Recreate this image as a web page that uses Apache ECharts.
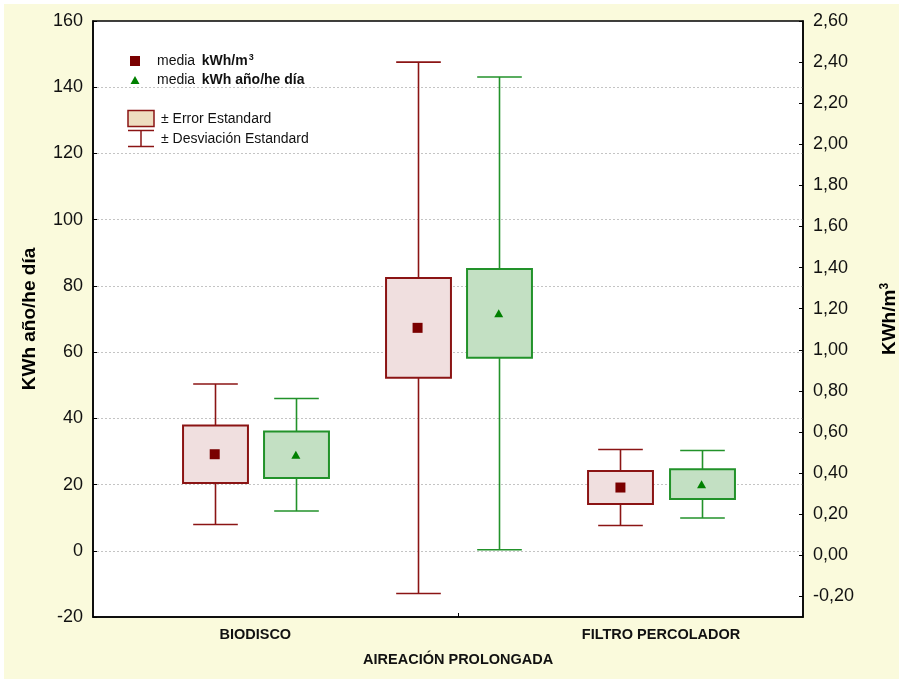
<!DOCTYPE html>
<html>
<head>
<meta charset="utf-8">
<script src="https://cdn.jsdelivr.net/npm/echarts@6/dist/echarts.min.js"></script>
<style>
  html, body { margin: 0; padding: 0; background: #ffffff; }
  #chart { width: 899px; height: 681px; }
</style>
</head>
<body>
<div id="chart"></div>
<script>
// Categories on the horizontal axis
const categories = ['BIODISCO', 'AIREACIÓN PROLONGADA', 'FILTRO PERCOLADOR'];

// kWh/m3 (right axis): mean, standard error, standard deviation
const m3Mean = [0.492, 1.107, 0.330];
const m3SE = [0.140, 0.243, 0.080];
const m3SD = [0.342, 1.293, 0.185];

// kWh año/he día (left axis): mean, standard error, standard deviation
const dayMean = [29.0, 71.7, 20.1];
const daySE = [7.0, 13.4, 4.5];
const daySD = [17.0, 71.4, 10.2];

// Tick labels
const leftTicks = [-20, 0, 20, 40, 60, 80, 100, 120, 140, 160];
const rightTicks = [-0.2, 0, 0.2, 0.4, 0.6, 0.8, 1.0, 1.2, 1.4, 1.6, 1.8, 2.0, 2.2, 2.4, 2.6];

const FONT = "'Liberation Sans', Arial, sans-serif";
const RED = '#8B1414';
const RED_FILL = '#F0DFDF';
const RED_MARK = '#7A0000';
const GREEN = '#22922A';
const GREEN_FILL = '#C3E0C3';
const GREEN_MARK = '#008000';

const BOX_W = 0.32;   // box width in category units
const CAP_W = 0.22;   // whisker cap width in category units
const OFFSET = 0.2;   // shift of each group member from the category centre

function rows(mean, se, sd) {
  return categories.map((c, i) => [i + 1, mean[i], se[i], sd[i]]);
}

function boxRenderer(stroke, fill, offset) {
  return function (params, api) {
    const x = api.value(0) + offset;
    const mean = api.value(1), se = api.value(2), sd = api.value(3);
    const hiSD = api.coord([x, mean + sd]);
    const hiSE = api.coord([x, mean + se]);
    const loSE = api.coord([x, mean - se]);
    const loSD = api.coord([x, mean - sd]);
    const halfBox = api.size([BOX_W, 0])[0] / 2;
    const halfCap = api.size([CAP_W, 0])[0] / 2;
    const cx = Math.round(hiSD[0]) + 0.5;
    const line = (x1, y1, x2, y2) => ({
      type: 'line',
      shape: { x1, y1, x2, y2 },
      style: { stroke, lineWidth: 1.6 }
    });
    return {
      type: 'group',
      children: [
        line(cx, hiSD[1], cx, hiSE[1]),
        line(cx, loSE[1], cx, loSD[1]),
        line(cx - halfCap, hiSD[1], cx + halfCap, hiSD[1]),
        line(cx - halfCap, loSD[1], cx + halfCap, loSD[1]),
        {
          type: 'rect',
          shape: { x: cx - halfBox, y: hiSE[1], width: halfBox * 2, height: loSE[1] - hiSE[1] },
          style: { fill, stroke, lineWidth: 2 }
        }
      ]
    };
  };
}

const chart = echarts.init(document.getElementById('chart'), null, { renderer: 'canvas' });

const fmtComma = v => v.toFixed(2).replace('.', ',');

const option = {
  animation: false,
  backgroundColor: 'transparent',
  textStyle: { fontFamily: FONT },
  grid: {
    left: 93, right: 96, top: 21, bottom: 64,
    outerBoundsMode: 'none',
    containLabel: false,
    show: true,
    backgroundColor: '#ffffff',
    borderColor: '#000000',
    borderWidth: 1.5
  },
  xAxis: {
    type: 'value',
    min: 0.2,
    max: 3.7,
    axisLine: { show: true, onZero: false, lineStyle: { color: '#000', width: 1.5 } },
    axisTick: { show: true, inside: true, length: 4, customValues: [2], lineStyle: { color: '#000' } },
    splitLine: { show: false },
    axisLabel: {
      customValues: [1, 2, 3],
      margin: 5,
      fontFamily: FONT,
      fontSize: 14.5,
      fontWeight: 'bold',
      color: '#111',
      lineHeight: 25,
      formatter: v => {
        const i = Math.round(v) - 1;
        return i === 1 ? '\n' + categories[i] : categories[i];
      }
    }
  },
  yAxis: [
    {
      type: 'value',
      min: leftTicks[0],
      max: leftTicks[leftTicks.length - 1],
      interval: 20,
      name: 'KWh año/he día',
      nameLocation: 'middle',
      nameGap: 54,
      nameTextStyle: { fontFamily: FONT, fontSize: 19, fontWeight: 'bold', color: '#000' },
      axisLine: { show: true, onZero: false, lineStyle: { color: '#000', width: 1.5 } },
      axisTick: { show: true, inside: true, length: 4, lineStyle: { color: '#000' } },
      axisLabel: { margin: 10, fontFamily: FONT, fontSize: 18, color: '#111' },
      splitLine: {
        show: true, showMinLine: false, showMaxLine: false,
        lineStyle: { color: '#c4c4c4', type: [2, 2], width: 1 }
      }
    },
    {
      type: 'value',
      position: 'right',
      min: -0.3,
      max: 2.6,
      name: 'KWh/m{s|3}',
      nameLocation: 'middle',
      nameGap: 76,
      nameRotate: 90,
      nameTextStyle: {
        fontFamily: FONT, fontSize: 19, fontWeight: 'bold', color: '#000',
        rich: { s: { fontFamily: FONT, fontSize: 12, fontWeight: 'bold', color: '#000', verticalAlign: 'top', padding: [0, 0, 9, 0] } }
      },
      axisLine: { show: true, onZero: false, lineStyle: { color: '#000', width: 1.5 } },
      axisTick: { show: true, inside: true, length: 4, customValues: rightTicks, lineStyle: { color: '#000' } },
      axisLabel: { customValues: rightTicks, margin: 10, fontFamily: FONT, fontSize: 18, color: '#111', formatter: fmtComma },
      splitLine: { show: false }
    }
  ],
  series: [
    {
      type: 'custom',
      name: 'kWh/m3',
      yAxisIndex: 1,
      renderItem: boxRenderer(RED, RED_FILL, -OFFSET),
      data: rows(m3Mean, m3SE, m3SD),
      z: 2
    },
    {
      type: 'custom',
      name: 'kWh año/he día',
      yAxisIndex: 0,
      renderItem: boxRenderer(GREEN, GREEN_FILL, OFFSET),
      data: rows(dayMean, daySE, daySD),
      z: 2
    },
    {
      type: 'scatter',
      yAxisIndex: 1,
      symbol: 'rect',
      symbolSize: 10,
      itemStyle: { color: RED_MARK, opacity: 1 },
      data: m3Mean.map((v, i) => [i + 1 - OFFSET, v]),
      z: 5
    },
    {
      type: 'scatter',
      yAxisIndex: 0,
      symbol: 'triangle',
      symbolSize: [9, 8],
      itemStyle: { color: GREEN_MARK, opacity: 1 },
      data: dayMean.map((v, i) => [i + 1 + OFFSET, v]),
      z: 5
    }
  ],
  graphic: [
    // pale page panel behind the chart
    {
      type: 'rect', z: -100, silent: true,
      shape: { x: 4, y: 4, width: 895, height: 675 },
      style: { fill: '#FAFADC' }
    },
    // key: means
    {
      type: 'rect', z: 100,
      shape: { x: 130, y: 56, width: 10, height: 10 },
      style: { fill: RED_MARK }
    },
    {
      type: 'text', z: 100, x: 157, y: 61,
      style: {
        text: '{a|media}  {b|kWh/m}{s|3}',
        verticalAlign: 'middle',
        rich: {
          a: { fontFamily: FONT, fontSize: 14, fill: '#111' },
          b: { fontFamily: FONT, fontSize: 14, fontWeight: 'bold', fill: '#111' },
          s: { fontFamily: FONT, fontSize: 9, fontWeight: 'bold', fill: '#111', verticalAlign: 'top', padding: [0, 0, 7, 1] }
        }
      }
    },
    {
      type: 'polygon', z: 100,
      shape: { points: [[135, 76], [139.5, 84], [130.5, 84]] },
      style: { fill: GREEN_MARK }
    },
    {
      type: 'text', z: 100, x: 157, y: 80,
      style: {
        text: '{a|media}  {b|kWh año/he día}',
        verticalAlign: 'middle',
        rich: {
          a: { fontFamily: FONT, fontSize: 14, fill: '#111' },
          b: { fontFamily: FONT, fontSize: 14, fontWeight: 'bold', fill: '#111' }
        }
      }
    },
    // key: standard error box and standard deviation whisker
    {
      type: 'rect', z: 100,
      shape: { x: 128, y: 110.5, width: 26, height: 16 },
      style: { fill: '#EEDDC0', stroke: RED, lineWidth: 1.5 }
    },
    {
      type: 'polyline', z: 100,
      shape: { points: [[128, 130.5], [154, 130.5]] },
      style: { stroke: RED, lineWidth: 1.5 }
    },
    {
      type: 'polyline', z: 100,
      shape: { points: [[141, 130.5], [141, 146.5]] },
      style: { stroke: RED, lineWidth: 1.5 }
    },
    {
      type: 'polyline', z: 100,
      shape: { points: [[128, 146.5], [154, 146.5]] },
      style: { stroke: RED, lineWidth: 1.5 }
    },
    {
      type: 'text', z: 100, x: 161, y: 119,
      style: { text: '± Error Estandard', fontFamily: FONT, fontSize: 14, fill: '#111', verticalAlign: 'middle' }
    },
    {
      type: 'text', z: 100, x: 161, y: 139,
      style: { text: '± Desviación Estandard', fontFamily: FONT, fontSize: 14, fill: '#111', verticalAlign: 'middle' }
    }
  ]
};

chart.setOption(option);
</script>
</body>
</html>
